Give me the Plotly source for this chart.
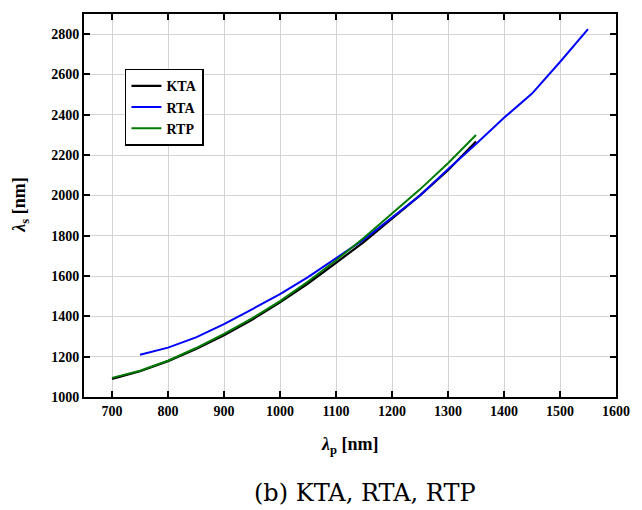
import plotly.graph_objects as go

kta_x = [700, 750, 800, 850, 900, 950, 1000, 1050, 1100, 1150, 1200, 1250, 1300, 1350]
kta_y = [1090, 1128, 1178, 1238, 1306, 1383, 1470, 1563, 1665, 1770, 1885, 2000, 2125, 2268]

rta_x = [750, 800, 850, 900, 950, 1000, 1050, 1100, 1150, 1200, 1250, 1300, 1350, 1400, 1450, 1500, 1550]
rta_y = [1210, 1245, 1296, 1362, 1435, 1510, 1595, 1690, 1782, 1890, 2000, 2130, 2255, 2385, 2505, 2662, 2825]

rtp_x = [700, 750, 800, 850, 900, 950, 1000, 1050, 1100, 1150, 1200, 1250, 1300, 1350]
rtp_y = [1095, 1130, 1180, 1243, 1313, 1390, 1476, 1573, 1678, 1790, 1910, 2030, 2160, 2300]

x_ticks = [700, 800, 900, 1000, 1100, 1200, 1300, 1400, 1500, 1600]
y_ticks = [1000, 1200, 1400, 1600, 1800, 2000, 2200, 2400, 2600, 2800]

serif = "Times New Roman, Liberation Serif, Tinos, serif"

fig = go.Figure()
fig.add_trace(go.Scatter(x=kta_x, y=kta_y, mode="lines", name="<b>KTA</b>",
                         line=dict(color="black", width=2.2)))
fig.add_trace(go.Scatter(x=rta_x, y=rta_y, mode="lines", name="<b>RTA</b>",
                         line=dict(color="#0000ff", width=2)))
fig.add_trace(go.Scatter(x=rtp_x, y=rtp_y, mode="lines", name="<b>RTP</b>",
                         line=dict(color="#007a00", width=2)))

axis_common = dict(
    showline=True, linecolor="black", linewidth=2, mirror="allticks",
    ticks="inside", ticklen=6, tickwidth=2, tickcolor="black",
    showgrid=True, gridcolor="#d3d3d3", gridwidth=1, zeroline=False,
    tickfont=dict(family=serif, size=14, color="black"),
)

fig.update_layout(
    width=642, height=510,
    margin=dict(l=84, r=24, t=13, b=113),
    paper_bgcolor="white", plot_bgcolor="white",
    xaxis=dict(range=[650, 1600], tickvals=x_ticks,
               ticktext=[f"<b>{v}</b>" for v in x_ticks], **axis_common),
    yaxis=dict(range=[1000, 2900], tickvals=y_ticks,
               ticktext=[f"<b>{v}</b>" for v in y_ticks], **axis_common),
    legend=dict(x=0.077, y=0.857, xanchor="left", yanchor="top",
                bordercolor="black", borderwidth=1.5, bgcolor="white",
                font=dict(family=serif, size=14, color="black"),
                tracegroupgap=0, itemwidth=30),
    showlegend=True,
    annotations=[
        dict(text="<b><i>λ</i><sub>p</sub> [nm]</b>", xref="paper", yref="paper",
             x=0.5, y=(397 - 446) / 384, xanchor="center", yanchor="middle",
             showarrow=False, font=dict(family=serif, size=18, color="black")),
        dict(text="<b><i>λ</i><sub>s</sub> [nm]</b>", xref="paper", yref="paper",
             x=(20 - 84) / 534, y=0.5, xanchor="center", yanchor="middle",
             textangle=-90, showarrow=False,
             font=dict(family=serif, size=18, color="black")),
        dict(text="(b) KTA, RTA, RTP", xref="paper", yref="paper",
             x=(366 - 84) / 534, y=(397 - 493) / 384, xanchor="center", yanchor="middle",
             showarrow=False, font=dict(family="DejaVu Serif", size=24, color="black")),
    ],
)

fig.write_html("out.html")
